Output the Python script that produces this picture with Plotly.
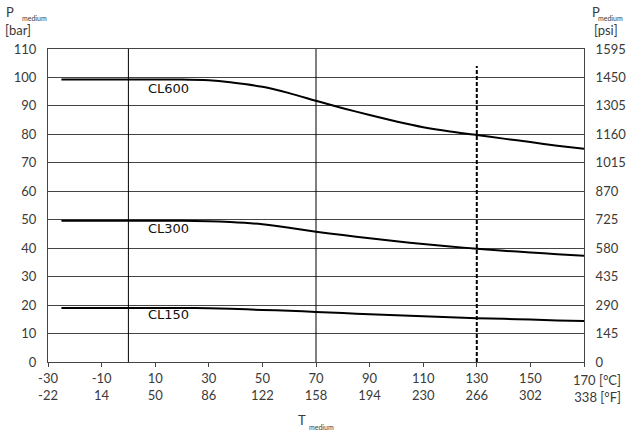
import plotly.graph_objects as go

# temperature points (°C)
temp_c = [-25, 0, 20, 30, 38, 50, 60, 70, 80, 90, 100, 110, 120, 130, 140, 150, 160, 170]
cl600 = [99.3, 99.3, 99.3, 99.0, 98.3, 96.7, 94.5, 91.8, 89.2, 86.8, 84.5, 82.5, 81.0, 79.8, 78.5, 77.3, 76.0, 74.9]
cl300 = [49.6, 49.6, 49.6, 49.5, 49.2, 48.4, 47.2, 45.8, 44.6, 43.5, 42.4, 41.5, 40.6, 39.8, 39.1, 38.5, 37.9, 37.3]
cl150 = [19.0, 19.0, 19.0, 18.9, 18.7, 18.3, 18.0, 17.6, 17.2, 16.8, 16.4, 16.1, 15.7, 15.4, 15.2, 14.9, 14.6, 14.4]
series_names = ["CL600", "CL300", "CL150"]

tick_c = [-30, -10, 10, 30, 50, 70, 90, 110, 130, 150, 170]
tick_f = [-22, 14, 50, 86, 122, 158, 194, 230, 266, 302, 338]
bar_ticks = list(range(0, 111, 10))
psi_ticks = [0, 145, 290, 435, 580, 725, 870, 1015, 1160, 1305, 1450, 1595]

FONT = "Lato"
TXT = "#3a3a3a"
GRID = "#444444"

# plot area in pixels
L, R, T, B = 48, 584, 49, 362


def paper(px, py):
    return (px - L) / (R - L), (B - py) / (B - T)


fig = go.Figure()

for vals in (cl600, cl300, cl150):
    fig.add_trace(go.Scatter(x=temp_c, y=vals, mode="lines",
                             line=dict(color="black", width=2, shape="spline", smoothing=0.6),
                             showlegend=False, hoverinfo="skip"))

# hidden trace so the psi axis is drawn
fig.add_trace(go.Scatter(x=temp_c, y=[v * 14.5 for v in cl600], yaxis="y2", mode="lines",
                         opacity=0, showlegend=False, hoverinfo="skip"))

# reference temperature lines
for t in (0, 70):
    fig.add_shape(type="line", x0=t, x1=t, y0=0, y1=110, xref="x", yref="y",
                  line=dict(color="black", width=1))
fig.add_shape(type="line", x0=130, x1=130, y0=0, y1=104, xref="x", yref="y",
              line=dict(color="black", width=2, dash="4px,2px"))

# curve labels
for name, yv in zip(series_names, [96.1, 46.8, 16.6]):
    fig.add_annotation(x=6.5, y=yv, text=name, showarrow=False, xanchor="left",
                       font=dict(family="DejaVu Sans", size=13, color="#111"))

ticktext = [f"{c}<br>{f}" for c, f in zip(tick_c, tick_f)]
ticktext[-1] = ""

fig.update_layout(
    width=627, height=439,
    margin=dict(l=L, r=627 - R, t=T, b=439 - B),
    plot_bgcolor="white", paper_bgcolor="white",
    font=dict(family=FONT, size=13, color=TXT),
    xaxis=dict(range=[-30, 170], tickvals=tick_c, ticktext=ticktext, automargin=False,
               ticks="outside", ticklen=4, tickcolor=GRID,
               showgrid=False, showline=True, linecolor=GRID, mirror=True,
               zeroline=False),
    yaxis=dict(range=[0, 110], tickvals=bar_ticks, showgrid=True, gridcolor=GRID,
               gridwidth=1, showline=True, linecolor=GRID, zeroline=False,
               ticks="", ticklabelstandoff=8, automargin=False),
    yaxis2=dict(range=[0, 1595], tickvals=psi_ticks, overlaying="y", side="right",
                showgrid=False, showline=True, linecolor=GRID, zeroline=False,
                ticks="", ticklabelstandoff=8, automargin=False),
)

# °C / °F unit labels at the last tick
fig.add_annotation(x=170, y=0, xref="x", yref="paper", xanchor="right", yanchor="top",
                   xshift=39, yshift=-8, align="right", showarrow=False,
                   text="170 [°C]<br>338 [°F]")


def label(px, py, text, size=13, anchor="left"):
    x, y = paper(px, py)
    fig.add_annotation(x=x, y=y, xref="paper", yref="paper", xanchor=anchor, yanchor="middle",
                       showarrow=False, text=text, font=dict(family=FONT, size=size, color=TXT))


# axis titles
label(4, 12, "P")
label(20, 18, "medium", size=7)
label(3, 30, "[bar]")
label(590, 12, "P")
label(625, 18, "medium", size=7, anchor="right")
label(592, 30, "[psi]")
label(296, 420, "T")
label(307, 427, "medium", size=7)

# page has a default 8px body margin; drop it so the figure sits at the corner
fig.write_html("out.html", config={"displayModeBar": False},
               post_script="document.body.style.margin='0';")
